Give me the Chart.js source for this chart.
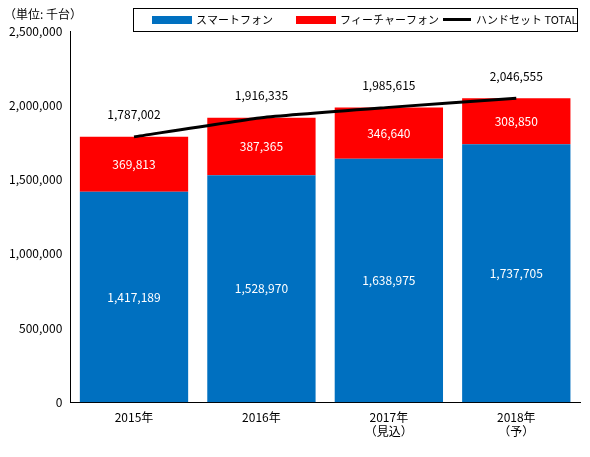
<!DOCTYPE html>
<html><head><meta charset="utf-8">
<script src="https://cdn.jsdelivr.net/npm/chart.js@4"></script>
<style>body{margin:0;background:#fff}#w{width:590px;height:457px}</style>
</head><body><div id="w"><canvas id="c"></canvas></div>
<script>
const categories=[["2015年"],["2016年"],["2017年","（見込）"],["2018年","（予）"]];
const smartphone=[1417189,1528970,1638975,1737705];
const featurephone=[369813,387365,346640,308850];
const totals=[1787002,1916335,1985615,2046555];
const seriesNames=["スマートフォン","フィーチャーフォン","ハンドセット TOTAL"];
const FONT='"Noto Sans CJK JP","Liberation Sans",sans-serif';
const fmt=v=>v.toLocaleString('en-US');
const labelsPlugin={id:'lbl',afterDatasetsDraw(ch){
 const c=ch.ctx;c.save();c.font='12px '+FONT;c.textAlign='center';c.textBaseline='middle';
 [0,1].forEach(di=>{ch.getDatasetMeta(di).data.forEach((b,i)=>{c.fillStyle='#fff';
   c.fillText(fmt(ch.data.datasets[di].data[i]),b.x,(b.y+b.base)/2);});});
 c.fillStyle='#000';
 ch.getDatasetMeta(2).data.forEach((p,i)=>c.fillText(fmt(totals[i]),p.x,p.y-22));
 c.strokeStyle='#000';c.lineWidth=1;c.strokeRect(133.5,8.5,444,23);
 c.textAlign='left';c.font='11px '+FONT;
 c.fillStyle='#0070C0';c.fillRect(152,16,40,8);
 c.fillStyle='#FF0000';c.fillRect(296,16,40,8);
 c.fillStyle='#000';c.fillRect(443,18,28,3);
 c.fillText(seriesNames[0],196,20);c.fillText(seriesNames[1],340,20);
 c.fillText(seriesNames[2],476,20);
 c.font='12px '+FONT;c.fillText("（単位: 千台）",4,14);
 c.restore();}};
new Chart(document.getElementById('c'),{
 data:{labels:categories,datasets:[
  {type:'bar',label:seriesNames[0],data:smartphone,backgroundColor:'#0070C0',stack:'s',order:2,barPercentage:0.85,categoryPercentage:1},
  {type:'bar',label:seriesNames[1],data:featurephone,backgroundColor:'#FF0000',stack:'s',order:2,barPercentage:0.85,categoryPercentage:1},
  {type:'line',label:seriesNames[2],data:totals,borderColor:'#000',borderWidth:3,pointRadius:0,order:1,tension:0.15}]},
 options:{responsive:true,maintainAspectRatio:false,animation:false,
  layout:{padding:{top:31,right:10,left:6,bottom:10}},
  plugins:{legend:{display:false},tooltip:{enabled:false}},
  scales:{
   x:{stacked:true,grid:{display:false,drawTicks:false},border:{color:'#000'},ticks:{color:'#000',font:{family:FONT,size:12},padding:8}},
   y:{stacked:true,min:0,max:2500000,grid:{display:false,drawTicks:true,tickLength:5,tickColor:'#000'},border:{color:'#000'},
    ticks:{stepSize:500000,color:'#000',font:{family:FONT,size:12},callback:v=>fmt(v)}}}},
 plugins:[labelsPlugin]});
</script></body></html>
